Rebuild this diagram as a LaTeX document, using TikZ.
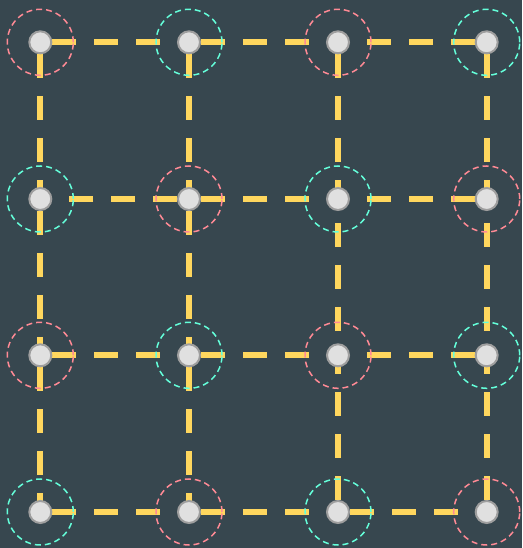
\documentclass[tikz,border=0pt]{standalone}
\definecolor{bgc}{HTML}{37474F}
\definecolor{edgec}{HTML}{FFD75E}
\definecolor{pinkc}{HTML}{FF8A95}
\definecolor{cyanc}{HTML}{64FFDA}
\definecolor{dotfill}{HTML}{E0E0E0}
\definecolor{dotline}{HTML}{9E9E9E}
\pgfdeclarelayer{back}
\pgfdeclarelayer{edges}
\pgfsetlayers{back,edges,main}
\begin{document}
\begin{tikzpicture}[x=1pt,y=1pt,
  dot/.style={circle,draw=dotline,fill=dotfill,line width=2pt,inner sep=0pt,minimum size=22pt},
  ring/.style={circle,line width=1.5pt,dash pattern=on 6pt off 4pt,inner sep=0pt,minimum size=66pt},
  link/.style={draw=edgec,line width=6pt,dash pattern=on 24pt off 18pt,dash phase=30pt},
  linkb/.style={link,dash phase=18pt}]
\begin{pgfonlayer}{back}
\fill[bgc] (0,0) rectangle (522,548);
\end{pgfonlayer}
\useasboundingbox (0,0) rectangle (522,548);
\foreach \c/\x in {0/40.3,1/189,2/338,3/486.7}
  \foreach \r/\y in {0/505.7,1/349,2/192.7,3/36}
    { \node[dot] (n\c\r) at (\x,\y) {}; }
\foreach \c in {0,...,3}
  \foreach \r in {0,...,3}
  { \pgfmathtruncatemacro\parity{mod(\c+\r,2)}
    \ifnum\parity=0 \def\rc{pinkc}\else\def\rc{cyanc}\fi
    \node[ring,draw=\rc] (r\c\r) at (n\c\r) {}; }
\begin{pgfonlayer}{edges}
\foreach \a/\b in {n00/n10,n10/n20,n30/n20,
                   n11/n01,n11/n21,n31/n21,
                   n02/n12,n12/n22,n32/n22,
                   n03/n13,n13/n23,n23/n33,
                   n00/n01,n01/n02,n02/n03,
                   n10/n11,n11/n12,n12/n13,
                   n20/n21,n23/n22,
                   n30/n31,n33/n32}
  { \draw[link] (\a.center) -- (\b.center); }
\foreach \a/\b in {n21/n22,n31/n32}
  { \draw[linkb] (\a.center) -- (\b.center); }
\end{pgfonlayer}
\end{tikzpicture}
\end{document}
